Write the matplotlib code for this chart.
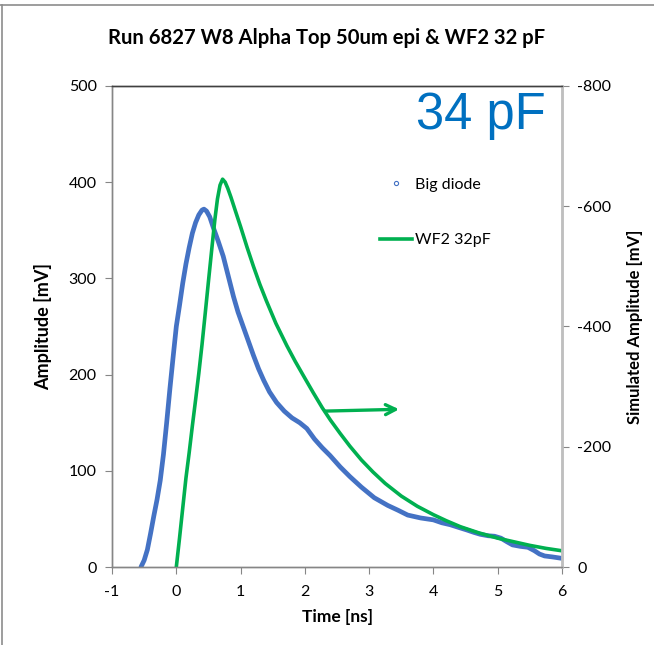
import matplotlib
matplotlib.use("Agg")
import matplotlib.pyplot as plt
from matplotlib.lines import Line2D

plt.rcParams['font.family'] = ['Lato', 'DejaVu Sans']
plt.rcParams['axes.unicode_minus'] = False

# Big diode measurement (left axis, mV)
diode_t = [-0.55, -0.50, -0.45, -0.40, -0.35, -0.30, -0.25, -0.20, -0.15, -0.10,
           -0.05, 0.0, 0.05, 0.10, 0.15, 0.20, 0.25, 0.30, 0.35, 0.40,
           0.43, 0.47, 0.52, 0.58, 0.65, 0.73, 0.81, 0.89, 0.96, 1.04,
           1.12, 1.20, 1.28, 1.36, 1.45, 1.56, 1.68, 1.80, 1.92, 2.03,
           2.15, 2.27, 2.39, 2.55, 2.70, 2.88, 3.08, 3.29, 3.45, 3.60,
           3.80, 4.00, 4.13, 4.26, 4.40, 4.52, 4.63, 4.73, 4.85, 4.95,
           5.05, 5.15, 5.23, 5.35, 5.47, 5.57, 5.65, 5.73, 5.85, 6.00]
diode_amp = [0, 7, 18, 35, 53, 70, 90, 117, 150, 185,
             218, 250, 272, 295, 315, 332, 347, 358, 366, 371,
             372, 370, 364, 352, 339, 323, 302, 281, 265, 250,
             235, 220, 206, 194, 182, 171, 162, 155, 150, 144,
             133, 124, 116, 104, 94, 83, 72, 64, 59, 54,
             51, 49, 46, 44, 41, 38.5, 36, 34, 32.5, 32,
             30, 26, 23, 21.5, 20.5, 17, 13.5, 11.5, 10.5, 9]

# WF2 32pF simulation (right axis, mV)
sim_t = [0.0, 0.05, 0.10, 0.15, 0.20, 0.25, 0.30, 0.35, 0.40, 0.45,
         0.50, 0.55, 0.60, 0.64, 0.68, 0.72, 0.76, 0.80, 0.85, 0.92,
         1.0, 1.1, 1.2, 1.3, 1.4, 1.55, 1.72, 1.85, 2.0, 2.13,
         2.27, 2.4, 2.55, 2.7, 2.88, 3.06, 3.25, 3.5, 3.75, 4.0,
         4.2, 4.42, 4.7, 5.0, 5.25, 5.5, 5.75, 6.0]
sim_amp = [0, -48, -98, -148, -190, -235, -278, -322, -370, -422,
           -475, -527, -578, -612, -635, -645, -640, -630, -615, -592,
           -566, -532, -500, -470, -443, -405, -368, -342, -314, -290,
           -265, -244, -222, -201, -178, -158, -139, -118, -101, -87,
           -77, -67, -57, -48, -42, -36, -31, -27]

blue = '#4472C4'
green = '#00B050'
arrow_blue = '#0070C0'

fig = plt.figure(figsize=(6.54, 6.45), dpi=100)
ax = fig.add_axes([0.1713, 0.1209, 0.688, 0.7458])
ax2 = ax.twinx()

ax.plot(diode_t, diode_amp, color=blue, lw=3.4, solid_capstyle='round',
        solid_joinstyle='round')
ax2.plot(sim_t, sim_amp, color=green, lw=2.6, solid_joinstyle='round')

ax.set_xlim(-1, 6)
ax.set_ylim(0, 500)
ax.set_xticks(range(-1, 7))
ax.set_yticks(range(0, 501, 100))
ax2.set_ylim(0, -800)
ax2.set_yticks([0, -200, -400, -600, -800])

for a in (ax, ax2):
    for s in a.spines.values():
        s.set_color('#868686')
        s.set_linewidth(1.0)
    a.spines['top'].set_color('#404040')
ax2.spines['right'].set_color('#BFBFBF')
ax2.spines['right'].set_linewidth(2.0)

ax.tick_params(axis='both', direction='out', length=5, color='#868686',
               labelsize=11.5, labelcolor='#000000')
ax.tick_params(axis='y', pad=6)
ax.tick_params(axis='x', pad=8)
ax2.tick_params(axis='y', direction='out', length=5, color='#868686',
                labelsize=11.5, pad=6)

ax.set_xlabel('Time [ns]', fontsize=12.5, fontweight='bold', labelpad=7)
ax.set_ylabel('Amplitude [mV]', fontsize=13, fontweight='bold', labelpad=12)
ax2.set_ylabel('Simulated Amplitude [mV]', fontsize=12, fontweight='bold',
               labelpad=11)

fig.text(0.5, 0.941, 'Run 6827 W8 Alpha Top 50um epi & WF2 32 pF',
         ha='center', va='center', fontsize=14.6, fontweight='bold')

ax.text(0.82, 0.91, '34 pF', transform=ax.transAxes, ha='center',
        va='baseline', fontsize=36.5, color=arrow_blue,
        family='Liberation Sans')

handles = [Line2D([], [], color=blue, marker='o', ms=3, mfc='none',
                  mew=0.8, ls='none'),
           Line2D([], [], color=green, lw=2.6)]
ax2.legend(handles, ['Big diode', 'WF2 32pF'], loc='upper left',
           bbox_to_anchor=(0.581, 0.823), frameon=False, fontsize=11.5,
           handlelength=2.0, handletextpad=0.2, labelspacing=2.59,
           borderaxespad=0)

# arrows pointing to each series' axis
ax.annotate('', xy=(-1.03, 73), xytext=(-0.25, 73),
            arrowprops=dict(arrowstyle='->', color=arrow_blue, lw=2.4,
                            mutation_scale=18))
ax.annotate('', xy=(3.51, 164), xytext=(2.27, 162),
            arrowprops=dict(arrowstyle='->', color=green, lw=2.4,
                            mutation_scale=18))

# outer chart border
fig.add_artist(Line2D([0, 1], [1 - 5 / 645, 1 - 5 / 645], color='#8c8c8c',
                      lw=1.2, transform=fig.transFigure))
fig.add_artist(Line2D([1.5 / 654, 1.5 / 654], [0, 1 - 5 / 645],
                      color='#8c8c8c', lw=1.2, transform=fig.transFigure))

fig.savefig('out.png', dpi=100)
